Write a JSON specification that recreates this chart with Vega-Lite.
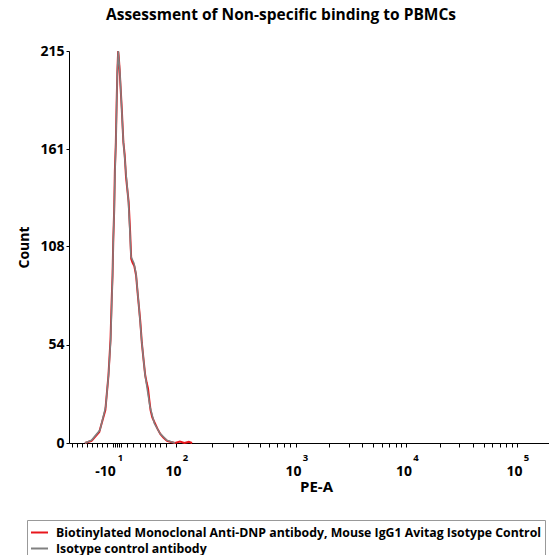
{
  "$schema": "https://vega.github.io/schema/vega-lite/v6.json",
  "width": 480,
  "height": 392,
  "autosize": "none",
  "padding": {"left": 69, "top": 51, "right": 0, "bottom": 112},
  "background": "white",
  "title": {"text": "Assessment of Non-specific binding to PBMCs", "font": "Open Sans", "fontSize": 15.5, "fontWeight": "bold", "color": "black", "anchor": "middle", "dx": -28, "offset": 21},
  "data": {"values": [
    {"series": "Biotinylated Monoclonal Anti-DNP antibody, Mouse IgG1 Avitag Isotype Control", "pe": 1.09, "count": 0},
    {"series": "Biotinylated Monoclonal Anti-DNP antibody, Mouse IgG1 Avitag Isotype Control", "pe": 1.15, "count": 1.2},
    {"series": "Biotinylated Monoclonal Anti-DNP antibody, Mouse IgG1 Avitag Isotype Control", "pe": 1.22, "count": 6.0},
    {"series": "Biotinylated Monoclonal Anti-DNP antibody, Mouse IgG1 Avitag Isotype Control", "pe": 1.275, "count": 18},
    {"series": "Biotinylated Monoclonal Anti-DNP antibody, Mouse IgG1 Avitag Isotype Control", "pe": 1.303, "count": 37},
    {"series": "Biotinylated Monoclonal Anti-DNP antibody, Mouse IgG1 Avitag Isotype Control", "pe": 1.322, "count": 57},
    {"series": "Biotinylated Monoclonal Anti-DNP antibody, Mouse IgG1 Avitag Isotype Control", "pe": 1.331, "count": 76},
    {"series": "Biotinylated Monoclonal Anti-DNP antibody, Mouse IgG1 Avitag Isotype Control", "pe": 1.34, "count": 92},
    {"series": "Biotinylated Monoclonal Anti-DNP antibody, Mouse IgG1 Avitag Isotype Control", "pe": 1.347, "count": 112},
    {"series": "Biotinylated Monoclonal Anti-DNP antibody, Mouse IgG1 Avitag Isotype Control", "pe": 1.355, "count": 128},
    {"series": "Biotinylated Monoclonal Anti-DNP antibody, Mouse IgG1 Avitag Isotype Control", "pe": 1.361, "count": 149},
    {"series": "Biotinylated Monoclonal Anti-DNP antibody, Mouse IgG1 Avitag Isotype Control", "pe": 1.37, "count": 165},
    {"series": "Biotinylated Monoclonal Anti-DNP antibody, Mouse IgG1 Avitag Isotype Control", "pe": 1.377, "count": 186},
    {"series": "Biotinylated Monoclonal Anti-DNP antibody, Mouse IgG1 Avitag Isotype Control", "pe": 1.384, "count": 204},
    {"series": "Biotinylated Monoclonal Anti-DNP antibody, Mouse IgG1 Avitag Isotype Control", "pe": 1.391, "count": 215},
    {"series": "Biotinylated Monoclonal Anti-DNP antibody, Mouse IgG1 Avitag Isotype Control", "pe": 1.396, "count": 212},
    {"series": "Biotinylated Monoclonal Anti-DNP antibody, Mouse IgG1 Avitag Isotype Control", "pe": 1.404, "count": 205},
    {"series": "Biotinylated Monoclonal Anti-DNP antibody, Mouse IgG1 Avitag Isotype Control", "pe": 1.412, "count": 196},
    {"series": "Biotinylated Monoclonal Anti-DNP antibody, Mouse IgG1 Avitag Isotype Control", "pe": 1.423, "count": 184},
    {"series": "Biotinylated Monoclonal Anti-DNP antibody, Mouse IgG1 Avitag Isotype Control", "pe": 1.438, "count": 165},
    {"series": "Biotinylated Monoclonal Anti-DNP antibody, Mouse IgG1 Avitag Isotype Control", "pe": 1.45, "count": 158},
    {"series": "Biotinylated Monoclonal Anti-DNP antibody, Mouse IgG1 Avitag Isotype Control", "pe": 1.462, "count": 146},
    {"series": "Biotinylated Monoclonal Anti-DNP antibody, Mouse IgG1 Avitag Isotype Control", "pe": 1.486, "count": 132},
    {"series": "Biotinylated Monoclonal Anti-DNP antibody, Mouse IgG1 Avitag Isotype Control", "pe": 1.499, "count": 116},
    {"series": "Biotinylated Monoclonal Anti-DNP antibody, Mouse IgG1 Avitag Isotype Control", "pe": 1.509, "count": 101},
    {"series": "Biotinylated Monoclonal Anti-DNP antibody, Mouse IgG1 Avitag Isotype Control", "pe": 1.521, "count": 99},
    {"series": "Biotinylated Monoclonal Anti-DNP antibody, Mouse IgG1 Avitag Isotype Control", "pe": 1.537, "count": 97},
    {"series": "Biotinylated Monoclonal Anti-DNP antibody, Mouse IgG1 Avitag Isotype Control", "pe": 1.553, "count": 92},
    {"series": "Biotinylated Monoclonal Anti-DNP antibody, Mouse IgG1 Avitag Isotype Control", "pe": 1.566, "count": 83},
    {"series": "Biotinylated Monoclonal Anti-DNP antibody, Mouse IgG1 Avitag Isotype Control", "pe": 1.58, "count": 74},
    {"series": "Biotinylated Monoclonal Anti-DNP antibody, Mouse IgG1 Avitag Isotype Control", "pe": 1.592, "count": 66},
    {"series": "Biotinylated Monoclonal Anti-DNP antibody, Mouse IgG1 Avitag Isotype Control", "pe": 1.605, "count": 55},
    {"series": "Biotinylated Monoclonal Anti-DNP antibody, Mouse IgG1 Avitag Isotype Control", "pe": 1.62, "count": 46},
    {"series": "Biotinylated Monoclonal Anti-DNP antibody, Mouse IgG1 Avitag Isotype Control", "pe": 1.636, "count": 37},
    {"series": "Biotinylated Monoclonal Anti-DNP antibody, Mouse IgG1 Avitag Isotype Control", "pe": 1.649, "count": 33},
    {"series": "Biotinylated Monoclonal Anti-DNP antibody, Mouse IgG1 Avitag Isotype Control", "pe": 1.661, "count": 30},
    {"series": "Biotinylated Monoclonal Anti-DNP antibody, Mouse IgG1 Avitag Isotype Control", "pe": 1.672, "count": 24},
    {"series": "Biotinylated Monoclonal Anti-DNP antibody, Mouse IgG1 Avitag Isotype Control", "pe": 1.684, "count": 18},
    {"series": "Biotinylated Monoclonal Anti-DNP antibody, Mouse IgG1 Avitag Isotype Control", "pe": 1.7, "count": 14},
    {"series": "Biotinylated Monoclonal Anti-DNP antibody, Mouse IgG1 Avitag Isotype Control", "pe": 1.722, "count": 11},
    {"series": "Biotinylated Monoclonal Anti-DNP antibody, Mouse IgG1 Avitag Isotype Control", "pe": 1.745, "count": 8},
    {"series": "Biotinylated Monoclonal Anti-DNP antibody, Mouse IgG1 Avitag Isotype Control", "pe": 1.772, "count": 5},
    {"series": "Biotinylated Monoclonal Anti-DNP antibody, Mouse IgG1 Avitag Isotype Control", "pe": 1.8, "count": 3},
    {"series": "Biotinylated Monoclonal Anti-DNP antibody, Mouse IgG1 Avitag Isotype Control", "pe": 1.833, "count": 1.2},
    {"series": "Biotinylated Monoclonal Anti-DNP antibody, Mouse IgG1 Avitag Isotype Control", "pe": 1.87, "count": 0.5},
    {"series": "Biotinylated Monoclonal Anti-DNP antibody, Mouse IgG1 Avitag Isotype Control", "pe": 1.905, "count": 0},
    {"series": "Biotinylated Monoclonal Anti-DNP antibody, Mouse IgG1 Avitag Isotype Control", "pe": 1.95, "count": 0.8},
    {"series": "Biotinylated Monoclonal Anti-DNP antibody, Mouse IgG1 Avitag Isotype Control", "pe": 1.99, "count": 0},
    {"series": "Biotinylated Monoclonal Anti-DNP antibody, Mouse IgG1 Avitag Isotype Control", "pe": 2.03, "count": 0.6},
    {"series": "Biotinylated Monoclonal Anti-DNP antibody, Mouse IgG1 Avitag Isotype Control", "pe": 2.06, "count": 0},
    {"series": "Isotype control antibody", "pe": 1.09, "count": 0},
    {"series": "Isotype control antibody", "pe": 1.151, "count": 1.6},
    {"series": "Isotype control antibody", "pe": 1.226, "count": 7.1},
    {"series": "Isotype control antibody", "pe": 1.278, "count": 19.9},
    {"series": "Isotype control antibody", "pe": 1.305, "count": 38.2},
    {"series": "Isotype control antibody", "pe": 1.323, "count": 56.5},
    {"series": "Isotype control antibody", "pe": 1.332, "count": 74.8},
    {"series": "Isotype control antibody", "pe": 1.341, "count": 93.1},
    {"series": "Isotype control antibody", "pe": 1.347, "count": 111.3},
    {"series": "Isotype control antibody", "pe": 1.356, "count": 129.6},
    {"series": "Isotype control antibody", "pe": 1.362, "count": 147.9},
    {"series": "Isotype control antibody", "pe": 1.371, "count": 166.2},
    {"series": "Isotype control antibody", "pe": 1.377, "count": 184.5},
    {"series": "Isotype control antibody", "pe": 1.383, "count": 202.8},
    {"series": "Isotype control antibody", "pe": 1.392, "count": 215},
    {"series": "Isotype control antibody", "pe": 1.407, "count": 202.8},
    {"series": "Isotype control antibody", "pe": 1.437, "count": 166.2},
    {"series": "Isotype control antibody", "pe": 1.462, "count": 147.9},
    {"series": "Isotype control antibody", "pe": 1.483, "count": 133.3},
    {"series": "Isotype control antibody", "pe": 1.498, "count": 115},
    {"series": "Isotype control antibody", "pe": 1.507, "count": 102.2},
    {"series": "Isotype control antibody", "pe": 1.534, "count": 98.6},
    {"series": "Isotype control antibody", "pe": 1.552, "count": 93.1},
    {"series": "Isotype control antibody", "pe": 1.579, "count": 74.8},
    {"series": "Isotype control antibody", "pe": 1.603, "count": 56.5},
    {"series": "Isotype control antibody", "pe": 1.633, "count": 38.2},
    {"series": "Isotype control antibody", "pe": 1.655, "count": 29.1},
    {"series": "Isotype control antibody", "pe": 1.679, "count": 19.9},
    {"series": "Isotype control antibody", "pe": 1.718, "count": 10.8},
    {"series": "Isotype control antibody", "pe": 1.769, "count": 5.3},
    {"series": "Isotype control antibody", "pe": 1.83, "count": 1.6},
    {"series": "Isotype control antibody", "pe": 1.905, "count": 0}
  ]},
  "layer": [
    {
      "transform": [{"filter": {"not": {"field": "series", "equal": "Isotype control antibody"}}}],
      "mark": {"type": "line", "strokeWidth": 2, "interpolate": "linear"},
      "encoding": {
        "x": {
          "field": "pe", "type": "quantitative",
          "scale": {"domain": [0.946, 5.29], "nice": false, "zero": false},
          "axis": {
            "title": "PE-A",
            "values": [0.973, 1.018, 1.063, 1.109, 1.154, 1.199, 1.244, 1.29, 1.344, 1.362, 1.38, 1.398, 1.416, 1.471, 1.525, 1.588, 1.633, 1.679, 1.724, 1.769, 1.824, 1.914, 2.241, 2.433, 2.568, 2.674, 2.76, 2.832, 2.895, 2.95, 3, 3.301, 3.477, 3.602, 3.699, 3.778, 3.845, 3.903, 3.954, 4, 4.301, 4.477, 4.602, 4.699, 4.778, 4.845, 4.903, 4.954, 5],
            "labelExpr": "indexof([1.344, 1.914, 3, 4, 5], datum.value) >= 0 ? (datum.value < 1.5 ? '-10' : '10') : ''",
            "labelOffset": {"condition": {"test": "datum.value < 1.5", "value": -8}, "value": -3},
            "labelOverlap": false,
            "labelFlush": false,
            "tickSize": 4,
            "labelPadding": 17,
            "labelFont": "Open Sans", "labelFontSize": 14, "labelFontWeight": "bold", "labelColor": "black",
            "titleFont": "Open Sans", "titleFontSize": 15, "titleFontWeight": "bold", "titleColor": "black",
            "titlePadding": 1, "titleX": 247,
            "domainColor": "black", "tickColor": "black", "grid": false
          }
        },
        "y": {
          "field": "count", "type": "quantitative",
          "scale": {"domain": [0, 215], "nice": false},
          "axis": {
            "title": "Count",
            "values": [0, 54, 108, 161, 215],
            "tickSize": 3, "labelPadding": 2,
            "labelFont": "Open Sans", "labelFontSize": 14, "labelFontWeight": "bold", "labelColor": "black",
            "titleFont": "Open Sans", "titleFontSize": 14, "titleFontWeight": "bold", "titleColor": "black",
            "titlePadding": 8,
            "domainColor": "black", "tickColor": "black", "grid": false
          }
        },
        "color": {
          "field": "series", "type": "nominal",
          "scale": {"domain": ["Biotinylated Monoclonal Anti-DNP antibody, Mouse IgG1 Avitag Isotype Control", "Isotype control antibody"], "range": ["#e8161c", "#808080"]},
          "legend": {
            "title": null, "orient": "none", "legendX": -42, "legendY": 469,
            "symbolType": "stroke", "symbolSize": 289, "symbolStrokeWidth": 2,
            "labelFont": "Open Sans", "labelFontSize": 12.3, "labelFontWeight": "bold", "labelColor": "black",
            "labelLimit": 1000, "labelOffset": 7, "rowPadding": 0,
            "padding": 3, "strokeColor": "#999999", "fillColor": "white"
          }
        }
      }
    },
    {
      "transform": [{"filter": {"field": "series", "equal": "Isotype control antibody"}}],
      "mark": {"type": "line", "strokeWidth": 1.5, "interpolate": "linear"},
      "encoding": {
        "x": {
          "field": "pe", "type": "quantitative",
          "axis": {
            "title": null, "orient": "bottom",
            "values": [1.344, 1.914, 3, 4, 5],
            "labelExpr": "datum.value < 1.5 ? '1' : (datum.value < 2.5 ? '2' : format(datum.value, 'd'))",
            "domain": false, "ticks": false, "grid": false,
            "labelOffset": {"condition": {"test": "datum.value < 1.5", "value": 7}, "value": 9},
            "labelPadding": 9, "labelOverlap": false, "labelFlush": false,
            "labelFont": "Open Sans", "labelFontSize": 9.5, "labelFontWeight": "bold", "labelColor": "black"
          }
        },
        "y": {"field": "count", "type": "quantitative"},
        "color": {"field": "series", "type": "nominal"}
      }
    }
  ],
  "resolve": {"axis": {"x": "independent"}},
  "config": {"view": {"stroke": null}}
}
